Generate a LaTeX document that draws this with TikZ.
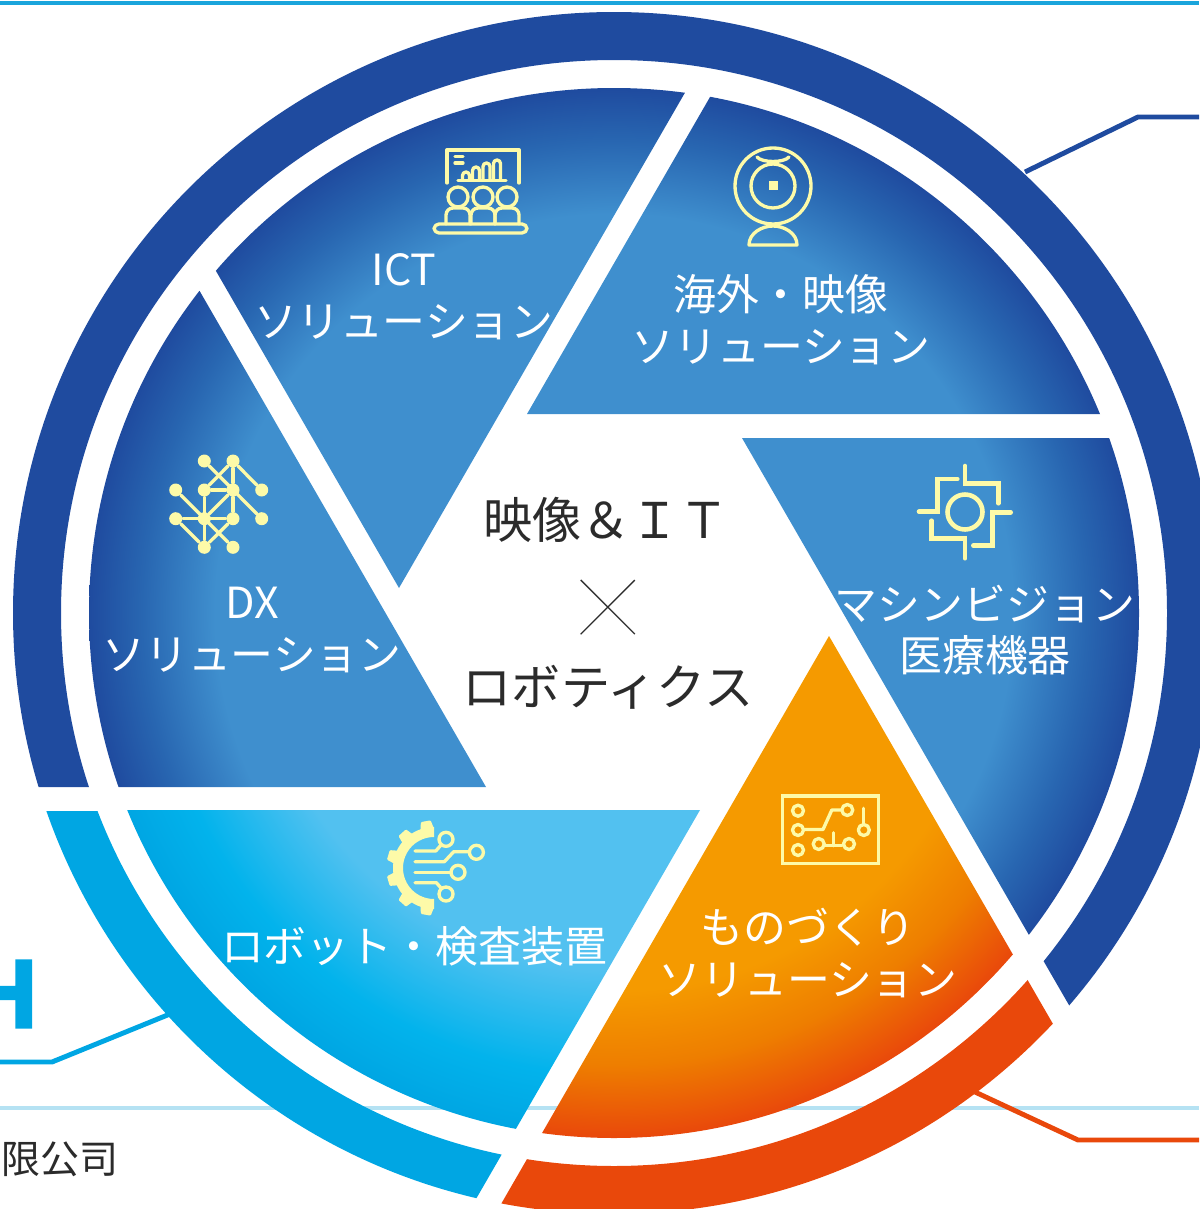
\documentclass[tikz,border=0pt]{standalone}
\usepackage{fontspec}
\setmainfont{Noto Sans CJK JP}
\newfontfamily\logofont[UprightFont={* Bold},FakeBold=3]{Liberation Sans}
\newfontfamily\crossfont{Lato Hairline}
\usetikzlibrary{arrows.meta}
\definecolor{bladecore}{HTML}{3F8FCE}
\definecolor{bladeedge}{HTML}{2866B1}
\definecolor{ringblue}{HTML}{1F4B9F}
\definecolor{skylight}{HTML}{52C1F0}
\definecolor{skymid}{HTML}{02B3EC}
\definecolor{ringsky}{HTML}{00A6E3}
\definecolor{ambercore}{HTML}{F59A00}
\definecolor{amberedge}{HTML}{EE7E00}
\definecolor{ringred}{HTML}{E9480B}
\definecolor{iconyellow}{HTML}{FDFAA8}
\definecolor{toprule}{HTML}{1AA5DC}
\definecolor{softrule}{HTML}{B5E2F3}
\definecolor{inktext}{HTML}{2B2B2B}
\pgfdeclareradialshading{bladeblue}{\pgfpointorigin}{color(0bp)=(bladecore); color(19bp)=(bladecore); color(22.5bp)=(bladeedge); color(25bp)=(ringblue); color(50bp)=(ringblue)}
\pgfdeclareradialshading{bladesky}{\pgfpointorigin}{color(0bp)=(skylight); color(17bp)=(skylight); color(22bp)=(skymid); color(25bp)=(ringsky); color(50bp)=(ringsky)}
\pgfdeclareradialshading{bladeamber}{\pgfpointorigin}{color(0bp)=(ambercore); color(18bp)=(ambercore); color(21.5bp)=(amberedge); color(25bp)=(ringred); color(50bp)=(ringred)}
\tikzset{
 bladetext/.style={text=white,align=center,font=\fontsize{12.2pt}{14.7pt}\selectfont,inner sep=0pt},
 hubtext/.style={text=inktext,font=\fontsize{14pt}{16pt}\selectfont,inner sep=0pt},
 iconline/.style={draw=iconyellow,line width=0.95pt,line cap=round,line join=round},
 iconfill/.style={fill=iconyellow},
 dxdot/.style={circle,fill=iconyellow,minimum size=0.13cm,inner sep=0pt},
 leader/.style={line width=1.4pt},
}
\begin{document}
\begin{tikzpicture}[x=0.1mm,y=-0.1mm]
\useasboundingbox (0,0) rectangle (1199,1209);
% rules behind the wheel
\draw[toprule,line width=0.9pt] (0,3) -- (1199,3);
\draw[softrule,line width=0.9pt] (0,1108) -- (1199,1108);
% blades
\foreach \ax/\ay/\ang/\shd in {527/414/-60/bladeblue,742/438/0/bladeblue,829/636/60/bladeamber,700/810/120/bladesky,486/787/180/bladeblue,399/588/240/bladeblue}{
\begin{scope}
\clip (\ax,\ay) -- ++(\ang:1000) -- ++({\ang+120}:1000) -- cycle;
\shade[shading=\shd] (614,613) circle (5.25cm);
\end{scope}
}
% outer ring
\begin{scope}
\clip (-100,787) -- (943,787) -- (1300,1405) -- (1500,1405) -- (1500,-100) -- (-100,-100) -- cycle;
\fill[ringblue,even odd rule] (614,613) circle (6.01cm) (614,613) circle (5.53cm);
\end{scope}
\begin{scope}
\clip (700,811) -- ++(120:1000) -- ++(240:1000) -- cycle;
\fill[ringsky,even odd rule] (614,613) circle (6.01cm) (614,613) circle (5.53cm);
\end{scope}
\begin{scope}
\clip (829,636) -- ++(60:1000) -- ++(180:1000) -- cycle;
\fill[ringred,even odd rule] (614,613) circle (6.01cm) (614,613) circle (5.53cm);
\end{scope}
% leaders
\coordinate (blueout) at (1199,117);
\coordinate (blueturn) at (1138,117);
\coordinate (bluering) at (1025,172);
\coordinate (skyout) at (0,1062);
\coordinate (skyturn) at (52,1062);
\coordinate (skyring) at (170,1014);
\coordinate (redout) at (1199,1140);
\coordinate (redturn) at (1078,1140);
\coordinate (redring) at (975,1092);
\draw[ringblue,leader] (blueout) -- (blueturn) -- (bluering);
\draw[ringsky,leader] (skyout) -- (skyturn) -- (skyring);
\draw[ringred,leader] (redout) -- (redturn) -- (redring);
% cut off texts at the left edge
\node[text=ringsky,font=\logofont\fontsize{27.5pt}{28pt}\selectfont,anchor=east,inner sep=0pt] (logoh) at (38,994) {H};
\node[text=inktext,font=\fontsize{11.1pt}{12pt}\selectfont,anchor=east,inner sep=0pt] (companyname) at (119,1159) {有限公司};
% labels
\node[bladetext] (ictlabel) at (404,297) {ICT\\ソリューション};
\node[bladetext] (overseaslabel) at (781,320) {海外・映像\\ソリューション};
\node[bladetext] (visionlabel) at (985,630) {マシンビジョン\\医療機器};
\node[bladetext] (makinglabel) at (808,953) {ものづくり\\ソリューション};
\node[bladetext] (robotlabel) at (414,946) {ロボット・検査装置};
\node[bladetext] (dxlabel) at (252,630) {DX\\ソリューション};
\node[hubtext] (hubtop) at (606,520) {映像＆ＩＴ};
\node[text=inktext,inner sep=0pt,font=\crossfont\fontsize{39pt}{39pt}\selectfont] (hubcross) at (608,617) {×};
\node[hubtext] (hubbottom) at (608,687) {ロボティクス};
% ICT icon
\draw[iconline] (447,183) -- (447,150) -- (519,150) -- (519,183);
\draw[iconline] (455,156.5) -- (463,156.5) (455,163) -- (463,163) (458,180.5) -- (506,180.5);
\foreach \bx/\by in {466/172,476/167,486.5/163,497/160}
\draw[iconline] ({\bx-3.5},180) -- ({\bx-3.5},{\by+3.5}) arc (180:0:0.035cm) -- ({\bx+3.5},180);
\foreach \bx in {458,483,507}{
\draw[iconline] (\bx,197) circle (0.1cm);
\draw[iconline,rounded corners=0.07cm] ({\bx-12},224) -- ({\bx-12},208) -- ({\bx+12},208) -- ({\bx+12},224);
}
\draw[iconline,rounded corners=0.05cm] (434,224) rectangle (527,233);
% webcam icon
\draw[iconline] (773,186) circle (0.38cm) (773,186) circle (0.22cm);
\fill[iconfill] (768.5,181.5) rectangle (777.5,190.5);
\draw[iconline] (757,157) .. controls (762,163) and (784,163) .. (789,157);
\draw[iconline] (749,245) .. controls (749,233) and (762,226) .. (773,226) .. controls (784,226) and (797,233) .. (797,245) -- cycle;
% network icon
\foreach \n/\cx/\cy in {a/204.3/461,b/233/461,c/175.7/490,d/204.3/490,e/233/490,f/261.7/490,g/175.7/518.7,h/204.3/518.7,i/233/518.7,j/261.7/518.7,k/204.3/547.3,l/233/547.3}
\node[dxdot] (dx\n) at (\cx,\cy) {};
\foreach \s/\t in {a/j,b/d,b/e,b/f,d/e,c/l,g/i,d/k,e/h,e/i,i/k,g/k}
\draw[iconline] (dx\s) -- (dx\t);
% vision icon
\draw[iconline,line width=1.3pt] (965,512) circle (0.175cm);
\draw[iconline,line width=1.3pt,line join=miter] (965,466) -- (965,483.3) -- (998.3,483.3) -- (998.3,503.3);
\draw[iconline,line width=1.3pt,line join=miter] (957.3,479) -- (937.3,479) -- (937.3,511.7) -- (919,511.7);
\draw[iconline,line width=1.3pt,line join=miter] (931.7,520.7) -- (931.7,538.7) -- (965,538.7) -- (965,558.3);
\draw[iconline,line width=1.3pt,line join=miter] (973.3,545.7) -- (992.7,545.7) -- (992.7,512.3) -- (1010.7,512.3);
% gear icon
\fill[iconfill] (434,827) arc (90:270:0.41cm) -- (434,899) arc (270:90:0.31cm) -- cycle;
\foreach \a in {100,132,164,196,228,260}
\fill[iconfill,shift={(434,868)},rotate=\a,rounded corners=0.01cm] (38,-7) -- (47.5,-5) -- (47.5,5) -- (38,7) -- cycle;
\draw[iconline] (446,839.3) circle (0.07cm) (476.4,852.3) circle (0.07cm) (458,872.3) circle (0.07cm) (446,894) circle (0.07cm);
\draw[iconline] (415,851) -- (435.8,851) -- (441,845);
\draw[iconline] (415,861.7) -- (444.4,861.7) -- (453.7,851.7) -- (469,851.7);
\draw[iconline] (415,872.3) -- (451,872.3);
\draw[iconline] (415,882.7) -- (436.4,882.7) -- (441,888);
% board icon
\draw[iconline,line join=miter] (782.5,796) rectangle (878.5,863.5);
\foreach \cx/\cy in {798/810.7,798/830,798/850,847.3/810,863.8/830,818.7/844,849/844}
\draw[iconline] (\cx,\cy) circle (0.055cm);
\draw[iconline] (804,829.5) -- (823,829.5) -- (831.8,810) -- (841.5,810);
\draw[iconline] (863.8,824) -- (863.8,808.3);
\draw[iconline] (825,845.7) -- (842,845.7) (833.5,845.7) -- (833.5,832.7);
\end{tikzpicture}
\end{document}
